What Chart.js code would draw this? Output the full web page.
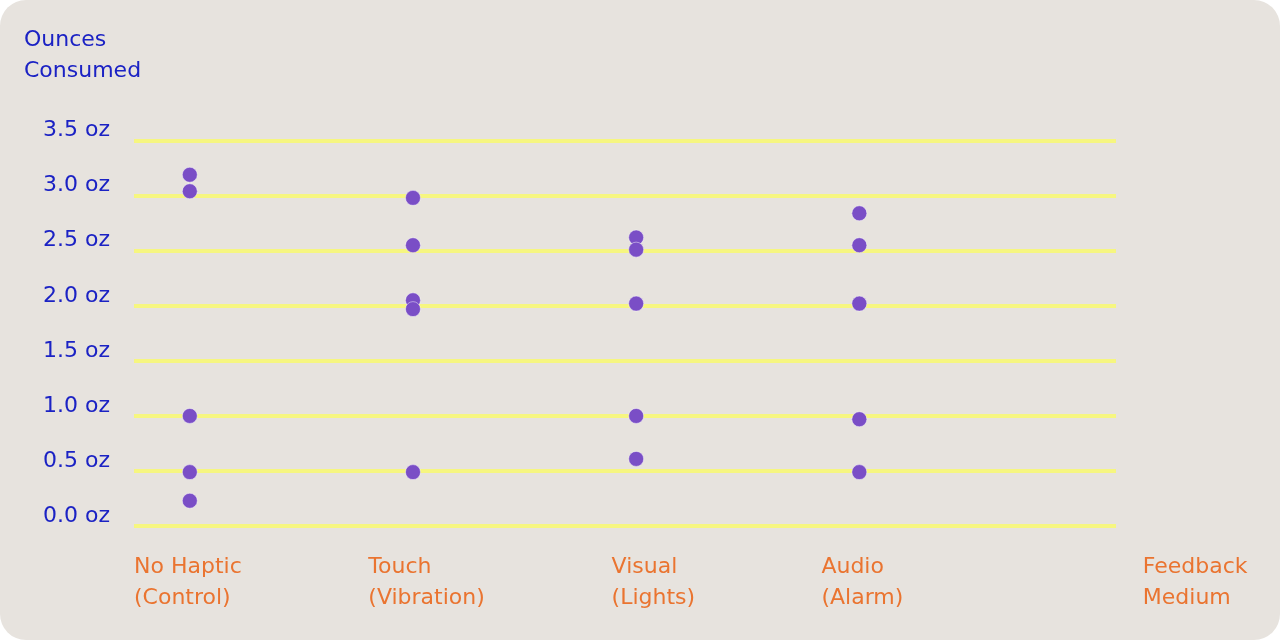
<!DOCTYPE html>
<html>
<head>
<meta charset="utf-8">
<script src="https://cdn.jsdelivr.net/npm/chart.js@4"></script>
<style>
  html, body { margin: 0; padding: 0; background: #ffffff; }
  .card {
    width: 1280px; height: 640px;
    background: #e7e3de;
    border-radius: 26px;
    overflow: hidden;
    position: relative;
  }
</style>
</head>
<body>
<div class="card">
  <canvas id="myChart" width="1280" height="640"></canvas>
</div>
<script>
// categories and where they sit on the x scale
var categories = ["No Haptic", "Touch", "Visual", "Audio"];
var categoryX = [0.25, 1.25, 2.25, 3.25];

// ounces consumed per participant, one list per feedback medium
var noHaptic = [3.19, 3.04, 1.0, 0.49, 0.23];
var touch = [2.98, 2.55, 2.05, 1.97, 0.49];
var visual = [2.62, 2.51, 2.02, 1.0, 0.61];
var audio = [2.84, 2.55, 2.02, 0.97, 0.49];

// tick labels
var yTicks = ["0.0 oz", "0.5 oz", "1.0 oz", "1.5 oz", "2.0 oz", "2.5 oz", "3.0 oz", "3.5 oz"];
var xTickPos = [0, 1.05, 2.14, 3.08, 4.52];
var xTickLabels = [
  ["No Haptic", "(Control)"],
  ["Touch", "(Vibration)"],
  ["Visual", "(Lights)"],
  ["Audio", "(Alarm)"],
  ["Feedback", "Medium"]
];

var blue = "#1b22c4";
var orange = "#ea7430";
var yellow = "#f6f680";
var purple = "#7a4ec6";
var font = "'DejaVu Sans', sans-serif";

var series = [noHaptic, touch, visual, audio];
var points = [];
series.forEach(function (vals, i) {
  vals.forEach(function (v) {
    points.push({ x: categoryX[i], y: v });
  });
});

var ctx = document.getElementById('myChart');
var chart = new Chart(ctx, {
  type: 'scatter',
  data: {
    datasets: [{
      label: "Ounces Consumed",
      data: points,
      backgroundColor: purple,
      borderColor: "rgba(255,255,255,0.45)",
      borderWidth: 1,
      pointRadius: 7.5,
      pointHoverRadius: 7.5
    }]
  },
  options: {
    responsive: false,
    animation: false,
    layout: {
      padding: { left: 24, top: 10, right: 164, bottom: 1 }
    },
    plugins: {
      legend: { display: false },
      tooltip: { enabled: false },
      title: {
        display: true,
        text: ["Ounces", "Consumed"],
        align: 'start',
        color: blue,
        font: { family: font, size: 22, weight: 'normal', lineHeight: 1.4 },
        padding: { top: 15, bottom: 54 }
      }
    },
    scales: {
      x: {
        type: 'linear',
        min: 0,
        max: 4.4,
        grid: { display: false, drawTicks: false },
        border: { display: false },
        afterBuildTicks: function (scale) {
          scale.ticks = xTickPos.map(function (v) { return { value: v }; });
        },
        afterFit: function (scale) {
          scale.paddingLeft = 0;
          scale.paddingRight = 0;
        },
        ticks: {
          autoSkip: false,
          maxRotation: 0,
          align: 'start',
          padding: 25,
          color: orange,
          font: { family: font, size: 22, lineHeight: 1.43 },
          callback: function (value, index) { return xTickLabels[index]; }
        }
      },
      y: {
        min: 0,
        max: 3.5,
        grid: { color: yellow, lineWidth: 4, drawTicks: false },
        border: { display: false },
        afterFit: function (scale) { scale.width = 110; },
        ticks: {
          stepSize: 0.5,
          padding: 24,
          labelOffset: -10,
          color: blue,
          font: { family: font, size: 22 },
          callback: function (value, index) { return yTicks[index]; }
        }
      }
    }
  }
});
</script>
</body>
</html>
